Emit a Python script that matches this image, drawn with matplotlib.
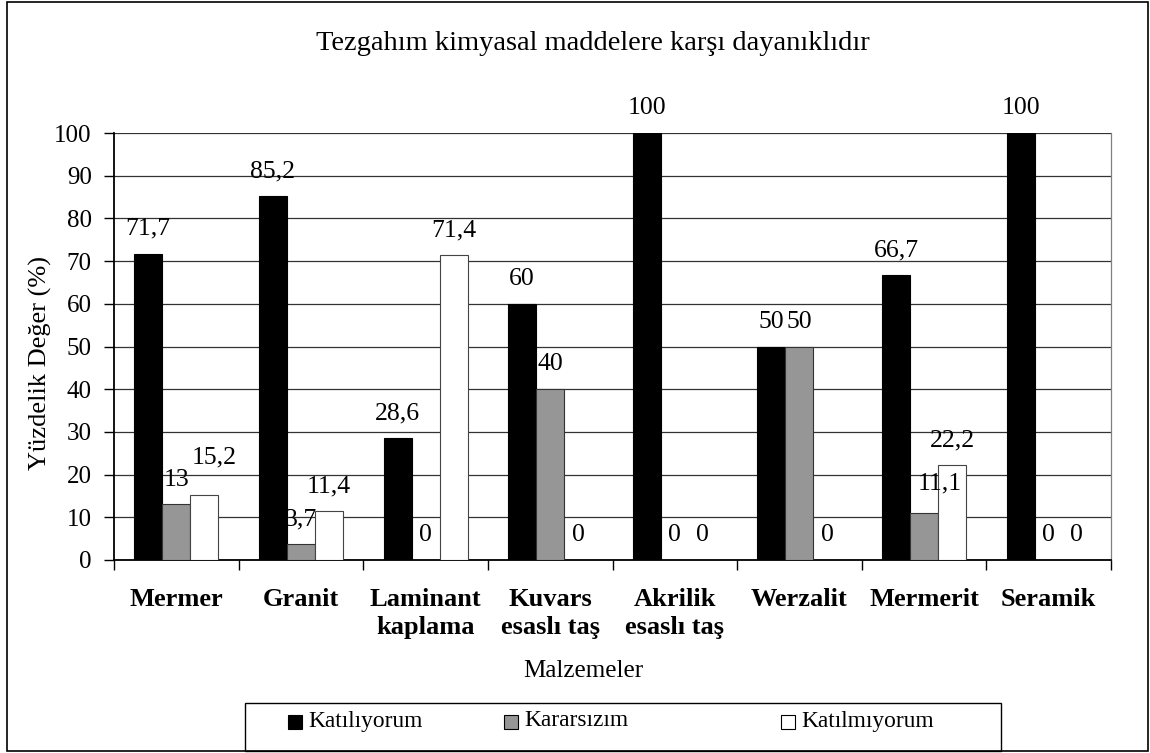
import matplotlib
matplotlib.use("Agg")
import matplotlib.pyplot as plt
from matplotlib.patches import Rectangle
import numpy as np

plt.rcParams['font.family'] = ['Liberation Serif', 'DejaVu Serif']

# veriler
categories = ["Mermer", "Granit", "Laminant\nkaplama", "Kuvars\nesaslı taş",
              "Akrilik\nesaslı taş", "Werzalit", "Mermerit", "Seramik"]
series_names = ["Katılıyorum", "Kararsızım", "Katılmıyorum"]
katiliyorum = [71.7, 85.2, 28.6, 60, 100, 50, 66.7, 100]
kararsizim = [13, 3.7, 0, 40, 0, 50, 11.1, 0]
katilmiyorum = [15.2, 11.4, 71.4, 0, 0, 0, 22.2, 0]

title = "Tezgahım kimyasal maddelere karşı dayanıklıdır"
ylabel = "Yüzdelik Değer (%)"
xlabel = "Malzemeler"

# stil
fills = ["#000000", "#969696", "#ffffff"]
edges = ["#000000", "#333333", "#444444"]
W, H = 1150, 753

fig = plt.figure(figsize=(W / 100, H / 100), dpi=100)
ax = fig.add_axes([114 / W, 1 - 560 / H, 997 / W, 427 / H])

x = np.arange(len(categories)) + 0.5
width = 0.225
all_labels = []
for j, vals in enumerate([katiliyorum, kararsizim, katilmiyorum]):
    bars = ax.bar(x + (j - 1) * width, vals, width, color=fills[j],
                  edgecolor=edges[j], linewidth=0.8, label=series_names[j], zorder=3)
    labels = [('%g' % v).replace('.', ',') for v in vals]
    all_labels.append(ax.bar_label(bars, labels=labels, padding=10, fontsize=18.5, zorder=4))

# Excel'deki gibi çakışan etiketleri biraz kaydır (punto)
all_labels[2][0].xyann = (7, 19)   # 15,2
all_labels[1][6].xyann = (11, 13)  # 11,1

ax.set_xlim(0, len(categories))
ax.set_ylim(0, 100)
ax.set_yticks(np.arange(0, 101, 10))
ax.yaxis.grid(True, color="#333333", linewidth=0.9, zorder=0)
ax.set_axisbelow(True)

ax.set_xticks(np.arange(len(categories) + 1))
ax.set_xticklabels([])
ax.set_xticks(x, minor=True)
ax.set_xticklabels(categories, minor=True, fontweight='bold', fontsize=19, linespacing=1.3)
ax.tick_params(axis='x', which='minor', length=0, pad=20)
ax.tick_params(axis='x', which='major', length=7, width=1, direction='out')
ax.tick_params(axis='y', length=7, width=1, labelsize=18, pad=9)

for s in ['left', 'bottom']:
    ax.spines[s].set_linewidth(1.3)
ax.spines['top'].set_visible(False)
ax.spines['right'].set_color('#808080')
ax.spines['right'].set_linewidth(0.9)

ax.set_ylabel(ylabel, fontsize=19, va='center')
ax.yaxis.set_label_coords(-0.0735, 0.461)
ax.set_xlabel(xlabel, fontsize=18, va='center')
ax.xaxis.set_label_coords(0.471, -0.26)

fig.text(593 / W, 1 - 43 / H, title, fontsize=20.5, ha='center', va='center')

# dış çerçeve
fig.patches.append(Rectangle((7 / W, 2 / H), 1141 / W, 749 / H, transform=fig.transFigure,
                             fill=False, edgecolor='black', linewidth=1.2))

# lejant
fig.patches.append(Rectangle((245 / W, 2 / H), 756 / W, 48 / H,
                             transform=fig.transFigure, fill=False, edgecolor='black', linewidth=1.0))
handle_x = [288, 504, 781]
leg_y = 722
for j, name in enumerate(series_names):
    fig.patches.append(Rectangle((handle_x[j] / W, 1 - (leg_y + 7) / H), 14 / W, 14 / H,
                                 transform=fig.transFigure, facecolor=fills[j],
                                 edgecolor='black', linewidth=0.8))
    fig.text((handle_x[j] + 20) / W, 1 - (leg_y - 1) / H, name, fontsize=16.8,
             ha='left', va='center')

fig.savefig("out.png", dpi=100)
